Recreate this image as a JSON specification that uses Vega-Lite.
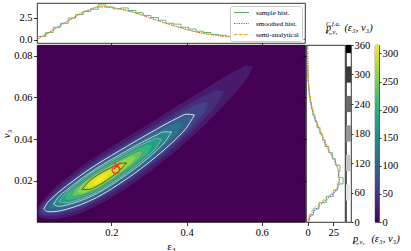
{
"$schema": "https://vega.github.io/schema/vega-lite/v6.json",
"padding": {"left": 0, "top": 2, "right": 0, "bottom": 0},
"background": "white",
"bounds": "flush",
"spacing": 2,
"config": {
 "font": "Liberation Serif",
 "view": {"stroke": "black", "strokeWidth": 0.8},
 "axis": {"grid": false, "domain": false, "tickColor": "black", "tickSize": 3.5, "tickWidth": 0.8, "labelFont": "Liberation Serif", "labelFontSize": 10.5, "labelColor": "black", "labelPadding": 1.5, "titleFont": "Liberation Serif", "titleFontSize": 11, "titleFontWeight": "normal", "titleColor": "black"}
},
"resolve": {"scale": {"color": "independent", "fill": "independent", "stroke": "independent", "strokeDash": "independent"}, "legend": {"color": "independent", "fill": "independent", "stroke": "independent", "strokeDash": "independent"}},
"datasets": {
 "bands": [
{"L":12,"v":21,"x":0.003,"lo":0.005,"hi":0.005},
{"L":12,"v":21,"x":0.005,"lo":0.00321,"hi":0.00713},
{"L":12,"v":21,"x":0.01,"lo":0.00243,"hi":0.00875},
{"L":12,"v":21,"x":0.015,"lo":0.00211,"hi":0.00993},
{"L":12,"v":21,"x":0.02,"lo":0.00187,"hi":0.01103},
{"L":12,"v":21,"x":0.03,"lo":0.00159,"hi":0.01305},
{"L":12,"v":21,"x":0.04,"lo":0.00152,"hi":0.01488},
{"L":12,"v":21,"x":0.06,"lo":0.00173,"hi":0.01827},
{"L":12,"v":21,"x":0.08,"lo":0.00242,"hi":0.0213},
{"L":12,"v":21,"x":0.1,"lo":0.00343,"hi":0.02411},
{"L":12,"v":21,"x":0.12,"lo":0.00467,"hi":0.02679},
{"L":12,"v":21,"x":0.14,"lo":0.00618,"hi":0.0293},
{"L":12,"v":21,"x":0.16,"lo":0.00788,"hi":0.03172},
{"L":12,"v":21,"x":0.18,"lo":0.00982,"hi":0.03402},
{"L":12,"v":21,"x":0.2,"lo":0.01193,"hi":0.03625},
{"L":12,"v":21,"x":0.22,"lo":0.01418,"hi":0.03846},
{"L":12,"v":21,"x":0.24,"lo":0.0165,"hi":0.04068},
{"L":12,"v":21,"x":0.26,"lo":0.01891,"hi":0.04293},
{"L":12,"v":21,"x":0.28,"lo":0.02147,"hi":0.04513},
{"L":12,"v":21,"x":0.3,"lo":0.02411,"hi":0.04735},
{"L":12,"v":21,"x":0.32,"lo":0.02682,"hi":0.04962},
{"L":12,"v":21,"x":0.34,"lo":0.02965,"hi":0.05187},
{"L":12,"v":21,"x":0.36,"lo":0.03257,"hi":0.05413},
{"L":12,"v":21,"x":0.38,"lo":0.0356,"hi":0.0564},
{"L":12,"v":21,"x":0.4,"lo":0.03876,"hi":0.05862},
{"L":12,"v":21,"x":0.42,"lo":0.04203,"hi":0.06083},
{"L":12,"v":21,"x":0.44,"lo":0.04543,"hi":0.06303},
{"L":12,"v":21,"x":0.46,"lo":0.04893,"hi":0.06525},
{"L":12,"v":21,"x":0.48,"lo":0.05253,"hi":0.06745},
{"L":12,"v":21,"x":0.5,"lo":0.0563,"hi":0.0696},
{"L":12,"v":21,"x":0.52,"lo":0.06026,"hi":0.07166},
{"L":12,"v":21,"x":0.54,"lo":0.0644,"hi":0.07364},
{"L":12,"v":21,"x":0.56,"lo":0.06902,"hi":0.07526},
{"L":12,"v":21,"x":0.576,"lo":0.07467,"hi":0.07467},
{"L":30,"v":40,"x":0.0065,"lo":0.0053,"hi":0.0053},
{"L":30,"v":40,"x":0.01,"lo":0.00383,"hi":0.00735},
{"L":30,"v":40,"x":0.015,"lo":0.00344,"hi":0.0086},
{"L":30,"v":40,"x":0.02,"lo":0.00321,"hi":0.00969},
{"L":30,"v":40,"x":0.03,"lo":0.003,"hi":0.01164},
{"L":30,"v":40,"x":0.04,"lo":0.003,"hi":0.0134},
{"L":30,"v":40,"x":0.06,"lo":0.00333,"hi":0.01667},
{"L":30,"v":40,"x":0.08,"lo":0.0041,"hi":0.01962},
{"L":30,"v":40,"x":0.1,"lo":0.00517,"hi":0.02237},
{"L":30,"v":40,"x":0.12,"lo":0.00644,"hi":0.02502},
{"L":30,"v":40,"x":0.14,"lo":0.00797,"hi":0.02751},
{"L":30,"v":40,"x":0.16,"lo":0.00968,"hi":0.02992},
{"L":30,"v":40,"x":0.18,"lo":0.01165,"hi":0.03219},
{"L":30,"v":40,"x":0.2,"lo":0.0138,"hi":0.03438},
{"L":30,"v":40,"x":0.22,"lo":0.01607,"hi":0.03657},
{"L":30,"v":40,"x":0.24,"lo":0.01843,"hi":0.03875},
{"L":30,"v":40,"x":0.26,"lo":0.02087,"hi":0.04097},
{"L":30,"v":40,"x":0.28,"lo":0.02348,"hi":0.04312},
{"L":30,"v":40,"x":0.3,"lo":0.02617,"hi":0.04529},
{"L":30,"v":40,"x":0.32,"lo":0.02895,"hi":0.04749},
{"L":30,"v":40,"x":0.34,"lo":0.03184,"hi":0.04968},
{"L":30,"v":40,"x":0.36,"lo":0.03485,"hi":0.05185},
{"L":30,"v":40,"x":0.38,"lo":0.03799,"hi":0.05401},
{"L":30,"v":40,"x":0.4,"lo":0.0413,"hi":0.05608},
{"L":30,"v":40,"x":0.42,"lo":0.04476,"hi":0.0581},
{"L":30,"v":40,"x":0.44,"lo":0.04844,"hi":0.06002},
{"L":30,"v":40,"x":0.46,"lo":0.05234,"hi":0.06184},
{"L":30,"v":40,"x":0.48,"lo":0.05657,"hi":0.06341},
{"L":30,"v":40,"x":0.5,"lo":0.06295,"hi":0.06295},
{"L":50,"v":62,"x":0.0115,"lo":0.00572,"hi":0.00572},
{"L":50,"v":62,"x":0.015,"lo":0.00467,"hi":0.00737},
{"L":50,"v":62,"x":0.02,"lo":0.00429,"hi":0.00861},
{"L":50,"v":62,"x":0.03,"lo":0.00403,"hi":0.01061},
{"L":50,"v":62,"x":0.04,"lo":0.00406,"hi":0.01234},
{"L":50,"v":62,"x":0.06,"lo":0.00441,"hi":0.01559},
{"L":50,"v":62,"x":0.08,"lo":0.00523,"hi":0.01849},
{"L":50,"v":62,"x":0.1,"lo":0.00631,"hi":0.02123},
{"L":50,"v":62,"x":0.12,"lo":0.00759,"hi":0.02387},
{"L":50,"v":62,"x":0.14,"lo":0.00913,"hi":0.02635},
{"L":50,"v":62,"x":0.16,"lo":0.01085,"hi":0.02875},
{"L":50,"v":62,"x":0.18,"lo":0.01283,"hi":0.03101},
{"L":50,"v":62,"x":0.2,"lo":0.015,"hi":0.03318},
{"L":50,"v":62,"x":0.22,"lo":0.0173,"hi":0.03534},
{"L":50,"v":62,"x":0.24,"lo":0.01968,"hi":0.0375},
{"L":50,"v":62,"x":0.26,"lo":0.02215,"hi":0.03969},
{"L":50,"v":62,"x":0.28,"lo":0.0248,"hi":0.0418},
{"L":50,"v":62,"x":0.3,"lo":0.02754,"hi":0.04392},
{"L":50,"v":62,"x":0.32,"lo":0.03038,"hi":0.04606},
{"L":50,"v":62,"x":0.34,"lo":0.03335,"hi":0.04817},
{"L":50,"v":62,"x":0.36,"lo":0.03644,"hi":0.05026},
{"L":50,"v":62,"x":0.38,"lo":0.03971,"hi":0.05229},
{"L":50,"v":62,"x":0.4,"lo":0.0432,"hi":0.05418},
{"L":50,"v":62,"x":0.42,"lo":0.04697,"hi":0.05589},
{"L":50,"v":62,"x":0.44,"lo":0.05124,"hi":0.05722},
{"L":50,"v":62,"x":0.45,"lo":0.05378,"hi":0.05752},
{"L":50,"v":62,"x":0.4567,"lo":0.05661,"hi":0.05661},
{"L":75,"v":90,"x":0.02,"lo":0.00645,"hi":0.00645},
{"L":75,"v":90,"x":0.03,"lo":0.00519,"hi":0.00945},
{"L":75,"v":90,"x":0.04,"lo":0.00513,"hi":0.01127},
{"L":75,"v":90,"x":0.06,"lo":0.00545,"hi":0.01455},
{"L":75,"v":90,"x":0.08,"lo":0.00628,"hi":0.01744},
{"L":75,"v":90,"x":0.1,"lo":0.00736,"hi":0.02018},
{"L":75,"v":90,"x":0.12,"lo":0.00864,"hi":0.02282},
{"L":75,"v":90,"x":0.14,"lo":0.01017,"hi":0.02531},
{"L":75,"v":90,"x":0.16,"lo":0.01189,"hi":0.02771},
{"L":75,"v":90,"x":0.18,"lo":0.01389,"hi":0.02995},
{"L":75,"v":90,"x":0.2,"lo":0.01608,"hi":0.0321},
{"L":75,"v":90,"x":0.22,"lo":0.0184,"hi":0.03424},
{"L":75,"v":90,"x":0.24,"lo":0.02082,"hi":0.03636},
{"L":75,"v":90,"x":0.26,"lo":0.02332,"hi":0.03852},
{"L":75,"v":90,"x":0.28,"lo":0.02602,"hi":0.04058},
{"L":75,"v":90,"x":0.3,"lo":0.02882,"hi":0.04264},
{"L":75,"v":90,"x":0.32,"lo":0.03175,"hi":0.04469},
{"L":75,"v":90,"x":0.34,"lo":0.0348,"hi":0.04672},
{"L":75,"v":90,"x":0.36,"lo":0.03803,"hi":0.04867},
{"L":75,"v":90,"x":0.38,"lo":0.04152,"hi":0.05048},
{"L":75,"v":90,"x":0.4,"lo":0.04543,"hi":0.05195},
{"L":75,"v":90,"x":0.4209,"lo":0.05156,"hi":0.05156},
{"L":105,"v":120,"x":0.0321,"lo":0.0075,"hi":0.0075},
{"L":105,"v":120,"x":0.04,"lo":0.00649,"hi":0.00991},
{"L":105,"v":120,"x":0.06,"lo":0.00655,"hi":0.01345},
{"L":105,"v":120,"x":0.08,"lo":0.00733,"hi":0.01639},
{"L":105,"v":120,"x":0.1,"lo":0.00839,"hi":0.01915},
{"L":105,"v":120,"x":0.12,"lo":0.00964,"hi":0.02182},
{"L":105,"v":120,"x":0.14,"lo":0.01116,"hi":0.02432},
{"L":105,"v":120,"x":0.16,"lo":0.01288,"hi":0.02672},
{"L":105,"v":120,"x":0.18,"lo":0.0149,"hi":0.02894},
{"L":105,"v":120,"x":0.2,"lo":0.01711,"hi":0.03107},
{"L":105,"v":120,"x":0.22,"lo":0.01946,"hi":0.03318},
{"L":105,"v":120,"x":0.24,"lo":0.02191,"hi":0.03527},
{"L":105,"v":120,"x":0.26,"lo":0.02446,"hi":0.03738},
{"L":105,"v":120,"x":0.28,"lo":0.02721,"hi":0.03939},
{"L":105,"v":120,"x":0.3,"lo":0.0301,"hi":0.04136},
{"L":105,"v":120,"x":0.32,"lo":0.03315,"hi":0.04329},
{"L":105,"v":120,"x":0.34,"lo":0.03636,"hi":0.04516},
{"L":105,"v":120,"x":0.36,"lo":0.03987,"hi":0.04683},
{"L":105,"v":120,"x":0.38,"lo":0.04402,"hi":0.04798},
{"L":105,"v":120,"x":0.3888,"lo":0.04717,"hi":0.04717},
{"L":135,"v":150,"x":0.0458,"lo":0.00872,"hi":0.00872},
{"L":135,"v":150,"x":0.06,"lo":0.00768,"hi":0.01232},
{"L":135,"v":150,"x":0.08,"lo":0.00832,"hi":0.0154},
{"L":135,"v":150,"x":0.1,"lo":0.0093,"hi":0.01824},
{"L":135,"v":150,"x":0.12,"lo":0.01051,"hi":0.02095},
{"L":135,"v":150,"x":0.14,"lo":0.01201,"hi":0.02347},
{"L":135,"v":150,"x":0.16,"lo":0.01371,"hi":0.02589},
{"L":135,"v":150,"x":0.18,"lo":0.01575,"hi":0.02809},
{"L":135,"v":150,"x":0.2,"lo":0.01799,"hi":0.03019},
{"L":135,"v":150,"x":0.22,"lo":0.02037,"hi":0.03227},
{"L":135,"v":150,"x":0.24,"lo":0.02286,"hi":0.03432},
{"L":135,"v":150,"x":0.26,"lo":0.02545,"hi":0.03639},
{"L":135,"v":150,"x":0.28,"lo":0.02828,"hi":0.03832},
{"L":135,"v":150,"x":0.3,"lo":0.03128,"hi":0.04018},
{"L":135,"v":150,"x":0.32,"lo":0.03452,"hi":0.04192},
{"L":135,"v":150,"x":0.34,"lo":0.03806,"hi":0.04346},
{"L":135,"v":150,"x":0.3602,"lo":0.04338,"hi":0.04338},
{"L":165,"v":180,"x":0.0599,"lo":0.00999,"hi":0.00999},
{"L":165,"v":180,"x":0.08,"lo":0.00938,"hi":0.01434},
{"L":165,"v":180,"x":0.1,"lo":0.0102,"hi":0.01734},
{"L":165,"v":180,"x":0.12,"lo":0.01133,"hi":0.02013},
{"L":165,"v":180,"x":0.14,"lo":0.01279,"hi":0.02269},
{"L":165,"v":180,"x":0.16,"lo":0.01448,"hi":0.02512},
{"L":165,"v":180,"x":0.18,"lo":0.01652,"hi":0.02732},
{"L":165,"v":180,"x":0.2,"lo":0.0188,"hi":0.02938},
{"L":165,"v":180,"x":0.22,"lo":0.02121,"hi":0.03143},
{"L":165,"v":180,"x":0.24,"lo":0.02375,"hi":0.03343},
{"L":165,"v":180,"x":0.26,"lo":0.0264,"hi":0.03544},
{"L":165,"v":180,"x":0.28,"lo":0.02935,"hi":0.03725},
{"L":165,"v":180,"x":0.3,"lo":0.03254,"hi":0.03892},
{"L":165,"v":180,"x":0.32,"lo":0.03621,"hi":0.04023},
{"L":165,"v":180,"x":0.333,"lo":0.03986,"hi":0.03986},
{"L":195,"v":210,"x":0.0768,"lo":0.01156,"hi":0.01156},
{"L":195,"v":210,"x":0.08,"lo":0.01092,"hi":0.0128},
{"L":195,"v":210,"x":0.1,"lo":0.01118,"hi":0.01636},
{"L":195,"v":210,"x":0.12,"lo":0.01215,"hi":0.01931},
{"L":195,"v":210,"x":0.14,"lo":0.01355,"hi":0.02193},
{"L":195,"v":210,"x":0.16,"lo":0.01521,"hi":0.02439},
{"L":195,"v":210,"x":0.18,"lo":0.01727,"hi":0.02657},
{"L":195,"v":210,"x":0.2,"lo":0.01958,"hi":0.0286},
{"L":195,"v":210,"x":0.22,"lo":0.02203,"hi":0.03061},
{"L":195,"v":210,"x":0.24,"lo":0.02464,"hi":0.03254},
{"L":195,"v":210,"x":0.26,"lo":0.02738,"hi":0.03446},
{"L":195,"v":210,"x":0.28,"lo":0.03053,"hi":0.03607},
{"L":195,"v":210,"x":0.3,"lo":0.03423,"hi":0.03723},
{"L":195,"v":210,"x":0.3076,"lo":0.03667,"hi":0.03667},
{"L":225,"v":237,"x":0.0941,"lo":0.0132,"hi":0.0132},
{"L":225,"v":237,"x":0.1,"lo":0.01251,"hi":0.01503},
{"L":225,"v":237,"x":0.12,"lo":0.01305,"hi":0.01841},
{"L":225,"v":237,"x":0.14,"lo":0.01433,"hi":0.02115},
{"L":225,"v":237,"x":0.16,"lo":0.01595,"hi":0.02365},
{"L":225,"v":237,"x":0.18,"lo":0.01801,"hi":0.02583},
{"L":225,"v":237,"x":0.2,"lo":0.02037,"hi":0.02781},
{"L":225,"v":237,"x":0.22,"lo":0.02289,"hi":0.02975},
{"L":225,"v":237,"x":0.24,"lo":0.02561,"hi":0.03157},
{"L":225,"v":237,"x":0.26,"lo":0.02851,"hi":0.03333},
{"L":225,"v":237,"x":0.28,"lo":0.03235,"hi":0.03425},
{"L":225,"v":237,"x":0.2835,"lo":0.03372,"hi":0.03372},
{"L":250,"v":261,"x":0.1085,"lo":0.01459,"hi":0.01459},
{"L":250,"v":261,"x":0.12,"lo":0.01398,"hi":0.01748},
{"L":250,"v":261,"x":0.14,"lo":0.01505,"hi":0.02043},
{"L":250,"v":261,"x":0.16,"lo":0.01659,"hi":0.02301},
{"L":250,"v":261,"x":0.18,"lo":0.01867,"hi":0.02517},
{"L":250,"v":261,"x":0.2,"lo":0.02108,"hi":0.0271},
{"L":250,"v":261,"x":0.22,"lo":0.02368,"hi":0.02896},
{"L":250,"v":261,"x":0.24,"lo":0.0266,"hi":0.03058},
{"L":250,"v":261,"x":0.26,"lo":0.03,"hi":0.03184},
{"L":250,"v":261,"x":0.2636,"lo":0.03135,"hi":0.03135},
{"L":272,"v":282,"x":0.1213,"lo":0.01586,"hi":0.01586},
{"L":272,"v":282,"x":0.14,"lo":0.01582,"hi":0.01966},
{"L":272,"v":282,"x":0.16,"lo":0.01723,"hi":0.02237},
{"L":272,"v":282,"x":0.18,"lo":0.01932,"hi":0.02452},
{"L":272,"v":282,"x":0.2,"lo":0.02182,"hi":0.02636},
{"L":272,"v":282,"x":0.22,"lo":0.02458,"hi":0.02806},
{"L":272,"v":282,"x":0.24,"lo":0.02859,"hi":0.02859},
{"L":292,"v":300,"x":0.136,"lo":0.01733,"hi":0.01733},
{"L":292,"v":300,"x":0.14,"lo":0.01687,"hi":0.01861},
{"L":292,"v":300,"x":0.16,"lo":0.01793,"hi":0.02167},
{"L":292,"v":300,"x":0.18,"lo":0.02003,"hi":0.02381},
{"L":292,"v":300,"x":0.2,"lo":0.0227,"hi":0.02548},
{"L":292,"v":300,"x":0.2176,"lo":0.02605,"hi":0.02605},
{"L":308,"v":312,"x":0.1509,"lo":0.01886,"hi":0.01886},
{"L":308,"v":312,"x":0.16,"lo":0.0187,"hi":0.0209},
{"L":308,"v":312,"x":0.18,"lo":0.02082,"hi":0.02302},
{"L":308,"v":312,"x":0.1942,"lo":0.02346,"hi":0.02346}
 ],
 "top": [
{"s":"sample hist.","x":0.005,"d":0.35},{"s":"sample hist.","x":0.025,"d":0.8},{"s":"sample hist.","x":0.045,"d":1.4},{"s":"sample hist.","x":0.065,"d":1.85},{"s":"sample hist.","x":0.085,"d":2.45},{"s":"sample hist.","x":0.105,"d":2.85},{"s":"sample hist.","x":0.125,"d":3.2},{"s":"sample hist.","x":0.145,"d":3.45},{"s":"sample hist.","x":0.165,"d":3.95},{"s":"sample hist.","x":0.185,"d":3.7},{"s":"sample hist.","x":0.205,"d":3.5},{"s":"sample hist.","x":0.225,"d":3.6},{"s":"sample hist.","x":0.245,"d":3.3},{"s":"sample hist.","x":0.265,"d":3.05},{"s":"sample hist.","x":0.285,"d":2.75},{"s":"sample hist.","x":0.305,"d":2.5},{"s":"sample hist.","x":0.325,"d":2.2},{"s":"sample hist.","x":0.345,"d":1.85},{"s":"sample hist.","x":0.365,"d":1.75},{"s":"sample hist.","x":0.385,"d":1.4},{"s":"sample hist.","x":0.405,"d":1.2},{"s":"sample hist.","x":0.425,"d":0.95},{"s":"sample hist.","x":0.445,"d":0.8},{"s":"sample hist.","x":0.465,"d":0.6},{"s":"sample hist.","x":0.485,"d":0.5},{"s":"sample hist.","x":0.505,"d":0.38},{"s":"sample hist.","x":0.525,"d":0.32},{"s":"sample hist.","x":0.545,"d":0.24},{"s":"sample hist.","x":0.565,"d":0.18},{"s":"sample hist.","x":0.585,"d":0.15},{"s":"sample hist.","x":0.605,"d":0.11},{"s":"sample hist.","x":0.625,"d":0.1},{"s":"sample hist.","x":0.645,"d":0.06},{"s":"sample hist.","x":0.665,"d":0.05},{"s":"sample hist.","x":0.685,"d":0.04},{"s":"sample hist.","x":0.705,"d":0},
{"s":"smoothed hist.","x":0.004,"d":0.08},{"s":"smoothed hist.","x":0.01,"d":0.24},{"s":"smoothed hist.","x":0.02,"d":0.47},{"s":"smoothed hist.","x":0.04,"d":0.97},{"s":"smoothed hist.","x":0.06,"d":1.5},{"s":"smoothed hist.","x":0.08,"d":2.02},{"s":"smoothed hist.","x":0.1,"d":2.52},{"s":"smoothed hist.","x":0.12,"d":3.0},{"s":"smoothed hist.","x":0.14,"d":3.38},{"s":"smoothed hist.","x":0.16,"d":3.66},{"s":"smoothed hist.","x":0.18,"d":3.72},{"s":"smoothed hist.","x":0.2,"d":3.64},{"s":"smoothed hist.","x":0.22,"d":3.5},{"s":"smoothed hist.","x":0.24,"d":3.32},{"s":"smoothed hist.","x":0.26,"d":3.1},{"s":"smoothed hist.","x":0.28,"d":2.82},{"s":"smoothed hist.","x":0.3,"d":2.52},{"s":"smoothed hist.","x":0.32,"d":2.22},{"s":"smoothed hist.","x":0.34,"d":1.94},{"s":"smoothed hist.","x":0.36,"d":1.67},{"s":"smoothed hist.","x":0.38,"d":1.41},{"s":"smoothed hist.","x":0.4,"d":1.16},{"s":"smoothed hist.","x":0.42,"d":0.94},{"s":"smoothed hist.","x":0.44,"d":0.75},{"s":"smoothed hist.","x":0.46,"d":0.6},{"s":"smoothed hist.","x":0.48,"d":0.48},{"s":"smoothed hist.","x":0.5,"d":0.38},{"s":"smoothed hist.","x":0.52,"d":0.3},{"s":"smoothed hist.","x":0.54,"d":0.24},{"s":"smoothed hist.","x":0.56,"d":0.19},{"s":"smoothed hist.","x":0.58,"d":0.15},{"s":"smoothed hist.","x":0.6,"d":0.12},{"s":"smoothed hist.","x":0.62,"d":0.09},{"s":"smoothed hist.","x":0.64,"d":0.07},{"s":"smoothed hist.","x":0.66,"d":0.055},{"s":"smoothed hist.","x":0.68,"d":0.042},{"s":"smoothed hist.","x":0.7,"d":0.032},{"s":"smoothed hist.","x":0.715,"d":0.025},
{"s":"semi-analytical","x":0.004,"d":0.03},{"s":"semi-analytical","x":0.01,"d":0.2},{"s":"semi-analytical","x":0.02,"d":0.44},{"s":"semi-analytical","x":0.04,"d":0.94},{"s":"semi-analytical","x":0.06,"d":1.49},{"s":"semi-analytical","x":0.08,"d":2.0},{"s":"semi-analytical","x":0.1,"d":2.5},{"s":"semi-analytical","x":0.12,"d":2.98},{"s":"semi-analytical","x":0.14,"d":3.4},{"s":"semi-analytical","x":0.16,"d":3.7},{"s":"semi-analytical","x":0.18,"d":3.76},{"s":"semi-analytical","x":0.2,"d":3.66},{"s":"semi-analytical","x":0.22,"d":3.49},{"s":"semi-analytical","x":0.24,"d":3.28},{"s":"semi-analytical","x":0.26,"d":3.07},{"s":"semi-analytical","x":0.28,"d":2.79},{"s":"semi-analytical","x":0.3,"d":2.49},{"s":"semi-analytical","x":0.32,"d":2.19},{"s":"semi-analytical","x":0.34,"d":1.92},{"s":"semi-analytical","x":0.36,"d":1.65},{"s":"semi-analytical","x":0.38,"d":1.39},{"s":"semi-analytical","x":0.4,"d":1.14},{"s":"semi-analytical","x":0.42,"d":0.92},{"s":"semi-analytical","x":0.44,"d":0.73},{"s":"semi-analytical","x":0.46,"d":0.58},{"s":"semi-analytical","x":0.48,"d":0.46},{"s":"semi-analytical","x":0.5,"d":0.36},{"s":"semi-analytical","x":0.52,"d":0.28},{"s":"semi-analytical","x":0.54,"d":0.22},{"s":"semi-analytical","x":0.56,"d":0.17},{"s":"semi-analytical","x":0.58,"d":0.13},{"s":"semi-analytical","x":0.6,"d":0.1},{"s":"semi-analytical","x":0.62,"d":0.08},{"s":"semi-analytical","x":0.64,"d":0.06},{"s":"semi-analytical","x":0.66,"d":0.045},{"s":"semi-analytical","x":0.68,"d":0.034},{"s":"semi-analytical","x":0.7,"d":0.025},{"s":"semi-analytical","x":0.715,"d":0.02}
 ],
 "right": [
{"s":"sample hist.","y":0.0005,"d":1.5},{"s":"sample hist.","y":0.0035,"d":5.5},{"s":"sample hist.","y":0.0065,"d":11},{"s":"sample hist.","y":0.0095,"d":18},{"s":"sample hist.","y":0.0125,"d":25},{"s":"sample hist.","y":0.0155,"d":29},{"s":"sample hist.","y":0.0185,"d":34.5},{"s":"sample hist.","y":0.0215,"d":30},{"s":"sample hist.","y":0.0245,"d":31.5},{"s":"sample hist.","y":0.0275,"d":27},{"s":"sample hist.","y":0.0305,"d":24},{"s":"sample hist.","y":0.0335,"d":20.5},{"s":"sample hist.","y":0.0365,"d":17},{"s":"sample hist.","y":0.0395,"d":14.5},{"s":"sample hist.","y":0.0425,"d":12},{"s":"sample hist.","y":0.0455,"d":9},{"s":"sample hist.","y":0.0485,"d":7},{"s":"sample hist.","y":0.0515,"d":5},{"s":"sample hist.","y":0.0545,"d":3.6},{"s":"sample hist.","y":0.0575,"d":2.5},{"s":"sample hist.","y":0.0605,"d":1.5},{"s":"sample hist.","y":0.0635,"d":1},{"s":"sample hist.","y":0.0665,"d":0.5},{"s":"sample hist.","y":0.0695,"d":0.3},{"s":"sample hist.","y":0.0725,"d":0.1},{"s":"sample hist.","y":0.0755,"d":0},
{"s":"smoothed hist.","y":0.0005,"d":0.5},{"s":"smoothed hist.","y":0.003,"d":3},{"s":"smoothed hist.","y":0.006,"d":7.5},{"s":"smoothed hist.","y":0.009,"d":13.5},{"s":"smoothed hist.","y":0.012,"d":21},{"s":"smoothed hist.","y":0.015,"d":27},{"s":"smoothed hist.","y":0.018,"d":30.5},{"s":"smoothed hist.","y":0.021,"d":31},{"s":"smoothed hist.","y":0.024,"d":30},{"s":"smoothed hist.","y":0.027,"d":28.5},{"s":"smoothed hist.","y":0.03,"d":26},{"s":"smoothed hist.","y":0.033,"d":22.5},{"s":"smoothed hist.","y":0.036,"d":19},{"s":"smoothed hist.","y":0.039,"d":16},{"s":"smoothed hist.","y":0.042,"d":13.5},{"s":"smoothed hist.","y":0.045,"d":11},{"s":"smoothed hist.","y":0.048,"d":8.5},{"s":"smoothed hist.","y":0.051,"d":6},{"s":"smoothed hist.","y":0.054,"d":4.3},{"s":"smoothed hist.","y":0.057,"d":3},{"s":"smoothed hist.","y":0.06,"d":2},{"s":"smoothed hist.","y":0.063,"d":1.2},{"s":"smoothed hist.","y":0.066,"d":0.7},{"s":"smoothed hist.","y":0.069,"d":0.4},{"s":"smoothed hist.","y":0.072,"d":0.2},{"s":"smoothed hist.","y":0.076,"d":0.1},{"s":"smoothed hist.","y":0.085,"d":0},
{"s":"semi-analytical","y":0.0005,"d":0},{"s":"semi-analytical","y":0.003,"d":1.5},{"s":"semi-analytical","y":0.006,"d":5},{"s":"semi-analytical","y":0.009,"d":11},{"s":"semi-analytical","y":0.012,"d":18.5},{"s":"semi-analytical","y":0.015,"d":25.5},{"s":"semi-analytical","y":0.018,"d":30},{"s":"semi-analytical","y":0.021,"d":31.2},{"s":"semi-analytical","y":0.024,"d":30.5},{"s":"semi-analytical","y":0.027,"d":28.5},{"s":"semi-analytical","y":0.03,"d":25.5},{"s":"semi-analytical","y":0.033,"d":22.5},{"s":"semi-analytical","y":0.036,"d":19.5},{"s":"semi-analytical","y":0.039,"d":16.5},{"s":"semi-analytical","y":0.042,"d":14},{"s":"semi-analytical","y":0.045,"d":11.5},{"s":"semi-analytical","y":0.048,"d":9},{"s":"semi-analytical","y":0.051,"d":6.8},{"s":"semi-analytical","y":0.054,"d":5},{"s":"semi-analytical","y":0.057,"d":3.6},{"s":"semi-analytical","y":0.06,"d":2.5},{"s":"semi-analytical","y":0.063,"d":1.6},{"s":"semi-analytical","y":0.066,"d":1},{"s":"semi-analytical","y":0.069,"d":0.6},{"s":"semi-analytical","y":0.072,"d":0.3},{"s":"semi-analytical","y":0.076,"d":0.15},{"s":"semi-analytical","y":0.085,"d":0}
 ],
 "marks": [{"k":"o","x":0.2115,"y":0.0253},{"k":"x","x":0.2155,"y":0.0272}],
 "greys": [{"c":60,"lo":43.5,"hi":76.5},{"c":120,"lo":103.5,"hi":136.5},{"c":180,"lo":163.5,"hi":196.5},{"c":240,"lo":223.5,"hi":256.5},{"c":300,"lo":283.5,"hi":316.5},{"c":360,"lo":343.5,"hi":360}],
 "cbar": [{"lo":0,"hi":315}]
},
"vconcat": [
 {
  "width": 268, "height": 40,
  "data": {"name": "top"},
  "encoding": {
   "x": {"field": "x", "type": "quantitative", "scale": {"domain": [0.002, 0.715], "nice": false, "zero": false}, "axis": {"values": [0.2, 0.4, 0.6], "labels": false, "title": null}},
   "y": {"field": "d", "type": "quantitative", "scale": {"domain": [-0.39, 4.16], "nice": false, "zero": false}, "axis": {"values": [0, 2.5], "format": ".1f", "title": null}},
   "color": {"field": "s", "type": "nominal", "scale": {"domain": ["sample hist.", "smoothed hist.", "semi-analytical"], "range": ["#5ab45a", "#6060f0", "#ffa31a"]},
     "legend": {"title": null, "orient": "top-right", "offset": 3, "fillColor": "white", "strokeColor": "#cccccc", "cornerRadius": 2, "padding": 3, "labelFont": "Liberation Serif", "labelFontSize": 7, "labelColor": "black", "symbolSize": 225, "symbolStrokeWidth": 1.2, "symbolType": "stroke", "rowPadding": 3, "labelOffset": 6, "clipHeight": 7, "symbolLimit": 10}},
   "strokeDash": {"field": "s", "type": "nominal", "scale": {"domain": ["sample hist.", "smoothed hist.", "semi-analytical"], "range": [[1, 0], [1.2, 1.2], [3.5, 1.5]]},
     "legend": {"title": null, "orient": "top-right", "offset": 3, "fillColor": "white", "strokeColor": "#cccccc", "cornerRadius": 2, "padding": 3, "labelFont": "Liberation Serif", "labelFontSize": 7, "labelColor": "black", "symbolSize": 225, "symbolStrokeWidth": 1.2, "symbolType": "stroke", "rowPadding": 3, "labelOffset": 6, "clipHeight": 7, "symbolLimit": 10}}
  },
  "layer": [
   {"transform": [{"filter": {"field": "s", "equal": "sample hist."}}], "mark": {"type": "line", "interpolate": "step-after", "strokeWidth": 1, "clip": true}},
   {"transform": [{"filter": {"field": "s", "equal": "smoothed hist."}}], "mark": {"type": "line", "interpolate": "monotone", "strokeWidth": 1.1, "clip": true}},
   {"transform": [{"filter": {"field": "s", "equal": "semi-analytical"}}], "mark": {"type": "line", "interpolate": "monotone", "strokeWidth": 1, "clip": true}}
  ]
 },
 {
  "bounds": "flush",
  "spacing": 1,
  "resolve": {"scale": {"color": "independent", "fill": "independent", "stroke": "independent", "strokeDash": "independent"}, "legend": {"color": "independent", "fill": "independent", "stroke": "independent", "strokeDash": "independent"}},
  "hconcat": [
     {
      "width": 268, "height": 177,
      "view": {"fill": "#440154", "stroke": "black", "strokeWidth": 0.8},
      "layer": [
       {"data": {"name": "bands"}, "mark": {"type": "area", "interpolate": "monotone", "clip": true},
        "encoding": {
         "x": {"field": "x", "type": "quantitative", "scale": {"domain": [0.002, 0.715], "nice": false, "zero": false}, "axis": {"values": [0.2, 0.4, 0.6], "format": ".1f", "title": "ε₃", "titlePadding": 3}},
         "y": {"field": "lo", "type": "quantitative", "scale": {"domain": [0.0002, 0.0851], "nice": false, "zero": false}, "axis": {"values": [0.02, 0.04, 0.06, 0.08], "format": ".2f", "title": "v₃", "titleFontStyle": "italic", "titlePadding": 2}},
         "y2": {"field": "hi"},
         "fill": {"field": "v", "type": "quantitative", "scale": {"scheme": "viridis", "domain": [0, 315]}, "legend": null},
         "detail": {"field": "L", "type": "ordinal"}
        }},
       {"data": {"name": "bands"}, "transform": [{"filter": {"field": "L", "oneOf": [75, 135, 165, 225, 272]}}], "mark": {"type": "line", "interpolate": "monotone", "strokeWidth": 0.9, "clip": true},
        "encoding": {
         "x": {"field": "x", "type": "quantitative", "title": "ε₃"},
         "y": {"field": "lo", "type": "quantitative", "title": "v₃"},
         "stroke": {"field": "L", "type": "ordinal", "scale": {"domain": [75, 135, 165, 225, 272], "range": ["#eeeeee", "#cfcfcf", "#a8a8a8", "#7e7e7e", "#4a4a4a"]}, "legend": null}
        }},
       {"data": {"name": "bands"}, "transform": [{"filter": {"field": "L", "oneOf": [75, 135, 165, 225, 272]}}], "mark": {"type": "line", "interpolate": "monotone", "strokeWidth": 0.9, "clip": true},
        "encoding": {
         "x": {"field": "x", "type": "quantitative", "title": "ε₃"},
         "y": {"field": "hi", "type": "quantitative", "title": "v₃"},
         "stroke": {"field": "L", "type": "ordinal", "scale": {"domain": [75, 135, 165, 225, 272], "range": ["#eeeeee", "#cfcfcf", "#a8a8a8", "#7e7e7e", "#4a4a4a"]}, "legend": null}
        }},
       {"data": {"name": "marks"}, "transform": [{"filter": {"field": "k", "equal": "o"}}], "mark": {"type": "point", "shape": "circle", "size": 55, "filled": false, "stroke": "#ff2a2a", "strokeWidth": 1.2, "opacity": 1},
        "encoding": {"x": {"field": "x", "type": "quantitative", "title": "ε₃"}, "y": {"field": "y", "type": "quantitative", "title": "v₃"}}},
       {"data": {"name": "marks"}, "transform": [{"filter": {"field": "k", "equal": "x"}}], "mark": {"type": "point", "shape": "M-1,-1L1,1M-1,1L1,-1", "size": 40, "filled": false, "stroke": "#ff2a2a", "strokeWidth": 1.2, "opacity": 1},
        "encoding": {"x": {"field": "x", "type": "quantitative", "title": "ε₃"}, "y": {"field": "y", "type": "quantitative", "title": "v₃"}}}
      ]
     },
     {
      "width": 39, "height": 177,
      "data": {"name": "right"},
      "encoding": {
       "y": {"field": "y", "type": "quantitative", "scale": {"domain": [0.0002, 0.0851], "nice": false, "zero": false}, "axis": {"values": [0.02, 0.04, 0.06, 0.08], "labels": false, "title": null}},
       "x": {"field": "d", "type": "quantitative", "scale": {"domain": [-1.7, 36.4], "nice": false, "zero": false}, "axis": {"values": [0, 25], "title": null}},
       "order": {"field": "y", "type": "quantitative"},
       "color": {"field": "s", "type": "nominal", "scale": {"domain": ["sample hist.", "smoothed hist.", "semi-analytical"], "range": ["#5ab45a", "#6060f0", "#ffa31a"]}, "legend": null},
       "strokeDash": {"field": "s", "type": "nominal", "scale": {"domain": ["sample hist.", "smoothed hist.", "semi-analytical"], "range": [[1, 0], [1.2, 1.2], [3.5, 1.5]]}, "legend": null}
      },
      "layer": [
       {"transform": [{"filter": {"field": "s", "equal": "sample hist."}}], "mark": {"type": "line", "interpolate": "step-before", "strokeWidth": 1, "clip": true}},
       {"transform": [{"filter": {"field": "s", "equal": "smoothed hist."}}], "mark": {"type": "line", "interpolate": "monotone", "strokeWidth": 1.1, "clip": true}},
       {"transform": [{"filter": {"field": "s", "equal": "semi-analytical"}}], "mark": {"type": "line", "interpolate": "monotone", "strokeWidth": 1, "clip": true}}
      ]
     },
     {
      "width": 5, "height": 177,
      "data": {"name": "greys"},
      "mark": {"type": "rect"},
      "encoding": {
       "y": {"field": "lo", "type": "quantitative", "scale": {"domain": [0, 360], "nice": false, "zero": false}, "axis": {"orient": "right", "values": [0, 60, 120, 180, 240, 300, 360], "title": null, "tickSize": 2, "labelPadding": 1}},
       "y2": {"field": "hi"},
       "fill": {"field": "c", "type": "ordinal", "scale": {"domain": [60, 120, 180, 240, 300, 360], "range": ["#e6e6e6", "#c4c4c4", "#969696", "#6a6a6a", "#3b3b3b", "#000000"]}, "legend": null}
      },
      "title": {"text": "p\u00a0\u00a0\u00a0\u00a0\u00a0(ε₃, v₃)", "subtitle": ["\u00a0\u00a0C.f.a.", "\u00a0\u00a0ε₃,v₃"], "orient": "top", "anchor": "start", "dx": -20, "offset": 3, "font": "Liberation Serif", "fontSize": 10.5, "fontWeight": "normal", "fontStyle": "italic", "color": "black", "subtitleFont": "Liberation Serif", "subtitleFontSize": 6.5, "subtitleFontStyle": "italic", "subtitleColor": "black", "subtitlePadding": -12, "subtitleLineHeight": 8}
     },
     {
      "width": 22, "height": 177,
      "data": {"values": [{"n": 0}]},
      "mark": {"type": "point", "opacity": 0},
      "view": {"stroke": null}
     },
     {
      "width": 4, "height": 177,
      "data": {"name": "cbar"},
      "mark": {"type": "rect", "fill": {"gradient": "linear", "x1": 0, "y1": 1, "x2": 0, "y2": 0, "stops": [{"offset": 0, "color": "#440154"}, {"offset": 0.1, "color": "#482475"}, {"offset": 0.2, "color": "#414487"}, {"offset": 0.3, "color": "#355f8d"}, {"offset": 0.4, "color": "#2a788e"}, {"offset": 0.5, "color": "#21918c"}, {"offset": 0.6, "color": "#22a884"}, {"offset": 0.7, "color": "#44bf70"}, {"offset": 0.8, "color": "#7ad151"}, {"offset": 0.9, "color": "#bddf26"}, {"offset": 1, "color": "#fde725"}]}},
      "encoding": {
       "y": {"field": "lo", "type": "quantitative", "scale": {"domain": [0, 315], "nice": false, "zero": false}, "axis": {"orient": "right", "values": [0, 50, 100, 150, 200, 250, 300], "title": null, "tickSize": 2, "labelPadding": 1}},
       "y2": {"field": "hi"}
      },
      "title": {"text": "p\u00a0\u00a0\u00a0\u00a0\u00a0(ε₃, v₃)", "subtitle": "\u00a0\u00a0ε₃,v₃", "orient": "bottom", "anchor": "start", "dx": -22, "offset": 6, "font": "Liberation Serif", "fontSize": 10.5, "fontWeight": "normal", "fontStyle": "italic", "color": "black", "subtitleFont": "Liberation Serif", "subtitleFontSize": 6.5, "subtitleFontStyle": "italic", "subtitleColor": "black", "subtitlePadding": -5}
     }
  ]
 }
]
}
